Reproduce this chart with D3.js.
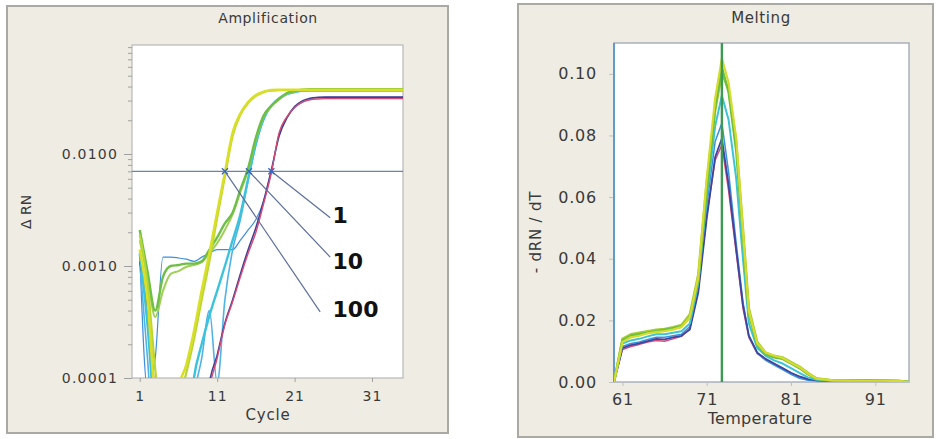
<!DOCTYPE html>
<html><head><meta charset="utf-8">
<script src="https://cdn.jsdelivr.net/npm/d3@7"></script>
<style>
html,body{margin:0;padding:0;background:#fff;}
svg{display:block;font-family:"DejaVu Sans",sans-serif;}
</style></head>
<body>
<svg id="c" width="939" height="439"></svg>
<script>
// ---------------- DATA ----------------
const cycles = d3.range(1, 36);
const ampYellow      = [0.0014,0.0005,0.00006,0.00002,0.00002,0.00008,0.00013,0.00026,0.0006,0.0013,0.003,0.0068,0.0155,0.023,0.029,0.0335,0.036,0.0372,0.0375,0.0375,0.0375,0.0375,0.0375,0.0375,0.0375,0.0375,0.0375,0.0375,0.0375,0.0375,0.0375,0.0375,0.0375,0.0375,0.0375];
const ampYellowGreen = [0.0019,0.0007,0.00012,0.00003,0.00002,0.00006,0.00011,0.00022,0.0005,0.0011,0.0027,0.0063,0.0145,0.0225,0.0285,0.033,0.0357,0.0368,0.0372,0.0372,0.0372,0.0372,0.0372,0.0372,0.0372,0.0372,0.0372,0.0372,0.0372,0.0372,0.0372,0.0372,0.0372,0.0372,0.0372];
const ampGreen       = [0.0021,0.0009,0.0004,0.0008,0.001,0.00102,0.00105,0.00105,0.0011,0.0014,0.0018,0.0024,0.003,0.0048,0.0075,0.014,0.022,0.027,0.031,0.035,0.0365,0.0375,0.0378,0.0378,0.0378,0.0378,0.0378,0.0378,0.0378,0.0378,0.0378,0.0378,0.0378,0.0378,0.0378];
const ampLightGreen  = [0.0017,0.0008,0.00035,0.0006,0.00085,0.0009,0.00098,0.00102,0.00108,0.0013,0.0016,0.0021,0.0029,0.0046,0.0072,0.0135,0.0215,0.0268,0.0308,0.0345,0.0362,0.0372,0.0374,0.0374,0.0374,0.0374,0.0374,0.0374,0.0374,0.0374,0.0374,0.0374,0.0374,0.0374,0.0374];
const ampCyan        = [0.0013,0.0003,0.00004,0.00002,0.00002,0.00002,0.00002,0.0001,0.0002,0.00036,0.0006,0.001,0.0017,0.0029,0.006,0.0125,0.021,0.027,0.0315,0.0345,0.036,0.0368,0.037,0.037,0.037,0.037,0.037,0.037,0.037,0.037,0.037,0.037,0.037,0.037,0.037];
const ampSkyBlue     = [0.0011,0.00015,0.00002,0.00002,0.00002,0.00002,0.00002,0.00007,0.00015,0.0004,0.00009,0.0005,0.0014,0.0026,0.0058,0.012,0.02,0.027,0.031,0.034,0.0355,0.0365,0.0368,0.0368,0.0368,0.0368,0.0368,0.0368,0.0368,0.0368,0.0368,0.0368,0.0368,0.0368,0.0368];
const ampRed         = [0.0012,0.0005,0.00007,0.00002,0.00002,0.00002,0.00002,0.00002,0.00002,0.00008,0.00015,0.0003,0.00048,0.0008,0.0013,0.002,0.0036,0.0068,0.0155,0.0215,0.026,0.029,0.0305,0.031,0.0312,0.0312,0.0312,0.0312,0.0312,0.0312,0.0312,0.0312,0.0312,0.0312,0.0312];
const ampNavy        = [0.0011,0.0004,0.00005,0.00002,0.00002,0.00002,0.00002,0.00002,0.00002,0.00009,0.00016,0.00031,0.0005,0.00085,0.0014,0.0022,0.0038,0.0072,0.0145,0.021,0.0265,0.0298,0.0315,0.032,0.0322,0.0322,0.0322,0.0322,0.0322,0.0322,0.0322,0.0322,0.0322,0.0322,0.0322];
const ampBlue        = [0.0013,0.00008,0.00015,0.0012,0.0012,0.00118,0.00115,0.0011,0.0012,0.0013,0.0014,0.0014,0.0014,0.0017,0.0021,0.0026,0.0038,0.007,0.015,0.021,0.026,0.029,0.031,0.0318,0.032,0.032,0.032,0.032,0.032,0.032,0.032,0.032,0.032,0.032,0.032];
const ampThreshold = 0.007;
const ampYTicks = [0.0001, 0.001, 0.01];
const ampYTickLabels = ["0.0001", "0.0010", "0.0100"];
const ampXTicks = [1, 11, 21, 31];
// copy-number annotations: crossing cycle, leader end (cycle, value), label (cycle, value)
const annCopies   = ["1", "10", "100"];
const annCross    = [18.0, 15.1, 12.0];
const annEndCycle = [25.6, 25.6, 24.3];
const annEndValue = [0.0027, 0.0012, 0.00039];
const annTxtCycle = [25.9, 25.9, 25.9];
const annTxtValue = [0.00242, 0.00094, 0.00035];

const temps = [60,61,62,63,64,65,66,67,68,69,70,71,72,72.8,73.6,74.5,75.3,76,77,78,79,80,81,82,83,84,86,88,90,92,94,95];
const meltNavy   = [0,0.011,0.012,0.0125,0.0133,0.014,0.0138,0.0145,0.015,0.017,0.029,0.053,0.073,0.079,0.064,0.043,0.025,0.015,0.0095,0.0075,0.006,0.0045,0.003,0.0018,0.0009,0.0005,0.0004,0.0004,0.0005,0.0004,0.0004,0];
const meltRed    = [0,0.0105,0.0115,0.0122,0.013,0.0135,0.0132,0.014,0.0148,0.0175,0.030,0.054,0.072,0.077,0.062,0.042,0.024,0.0145,0.0092,0.0072,0.0058,0.0044,0.0029,0.0017,0.0009,0.0005,0.0004,0.0005,0.0006,0.0004,0.0003,0];
const meltBlue   = [0,0.0115,0.0125,0.013,0.0138,0.0145,0.0145,0.015,0.0155,0.018,0.031,0.057,0.078,0.084,0.068,0.045,0.026,0.015,0.0095,0.007,0.0055,0.004,0.0025,0.0012,0.0006,0.0004,0.0003,0.0003,0.0004,0.0004,0.0003,0];
const meltCyan   = [0,0.0125,0.0135,0.014,0.0148,0.0155,0.0155,0.016,0.0165,0.019,0.032,0.060,0.083,0.093,0.085,0.066,0.040,0.019,0.011,0.0085,0.007,0.006,0.0045,0.003,0.0015,0.0007,0.0004,0.0004,0.0004,0.0004,0.0003,0];
const meltGreen  = [0,0.0135,0.015,0.0155,0.016,0.0165,0.017,0.0175,0.018,0.021,0.033,0.062,0.089,0.102,0.094,0.075,0.047,0.022,0.012,0.009,0.008,0.0075,0.006,0.0045,0.0025,0.001,0.0005,0.0004,0.0004,0.0004,0.0003,0];
const meltLime   = [0,0.014,0.0155,0.016,0.0165,0.017,0.0172,0.0178,0.0185,0.022,0.035,0.065,0.088,0.100,0.095,0.078,0.05,0.024,0.013,0.0095,0.0085,0.008,0.0065,0.005,0.003,0.0012,0.0005,0.0004,0.0004,0.0004,0.0003,0];
const meltYellow = [0,0.013,0.0145,0.015,0.0158,0.0162,0.0165,0.017,0.0178,0.021,0.034,0.066,0.092,0.105,0.097,0.079,0.049,0.023,0.0125,0.0095,0.0085,0.0078,0.0062,0.0048,0.0028,0.0011,0.0005,0.0004,0.0004,0.0004,0.0003,0];
const meltPeakT = 72.8;
const meltYTicks = [0, 0.02, 0.04, 0.06, 0.08, 0.10];
const meltXTicks = [61, 71, 81, 91];

// ---------------- DRAW ----------------
const svg = d3.select("#c");
const panelFill = "#efece3", panelStroke = "#aaa9a2", txt = "#3a3a3a";

// Left panel
svg.append("rect").attr("x",7).attr("y",6).attr("width",441).attr("height",427)
  .attr("fill",panelFill).attr("stroke",panelStroke).attr("stroke-width",2);
// Right panel
svg.append("rect").attr("x",518).attr("y",4).attr("width",415).attr("height",433)
  .attr("fill",panelFill).attr("stroke",panelStroke).attr("stroke-width",2);

// ===== Amplification =====
const xA = d3.scaleLinear().domain([0, 35]).range([132, 403]);
const yA = d3.scaleLog().domain([0.0001, 0.094]).range([378, 45]);
const gA = svg.append("g");
gA.append("rect").attr("x",132).attr("y",45).attr("width",271).attr("height",333)
  .attr("fill","#fff").attr("stroke","#b8b8b8").attr("stroke-width",1.2);
svg.append("defs").append("clipPath").attr("id","clipA").append("rect")
  .attr("x",132).attr("y",45).attr("width",271).attr("height",333);

// y axis with minor log ticks
const yAxisA = d3.axisLeft(yA).tickValues(yA.ticks()).tickSize(4).tickFormat("");
const ay = gA.append("g").attr("transform","translate(132,0)").call(yAxisA);
ay.select(".domain").remove();
ay.selectAll("line").attr("stroke","#a0a0a0");
const ayMajor = gA.append("g").attr("transform","translate(132,0)")
  .call(d3.axisLeft(yA).tickValues(ampYTicks).tickSize(8).tickFormat((d,i)=>ampYTickLabels[i]).tickPadding(6));
ayMajor.select(".domain").remove();
ayMajor.selectAll("line").attr("stroke","#a0a0a0");
ayMajor.selectAll("text").attr("font-size",14).attr("fill",txt).attr("letter-spacing",1.2)
  .attr("font-family","DejaVu Sans");

const axA = gA.append("g").attr("transform","translate(0,378)")
  .call(d3.axisBottom(xA).tickValues(ampXTicks).tickSize(4).tickPadding(9));
axA.select(".domain").remove();
axA.selectAll("line").attr("stroke","#a0a0a0");
axA.selectAll("text").attr("font-size",14).attr("fill",txt).attr("letter-spacing",1)
  .attr("font-family","DejaVu Sans");

gA.append("text").attr("x",268).attr("y",23).attr("text-anchor","middle")
  .attr("font-size",14).attr("letter-spacing",0.6).attr("fill",txt).text("Amplification");
gA.append("text").attr("x",268).attr("y",420).attr("text-anchor","middle")
  .attr("font-size",15).attr("letter-spacing",0.8).attr("fill",txt).text("Cycle");
gA.append("text").attr("transform","translate(31,212) rotate(-90)").attr("text-anchor","middle")
  .attr("font-size",14).attr("fill",txt).text("Δ RN");

// threshold
gA.append("line").attr("x1",xA(0)).attr("x2",xA(35)).attr("y1",yA(ampThreshold)).attr("y2",yA(ampThreshold))
  .attr("stroke","#6c82a6").attr("stroke-width",1.3);

const ampSeries = [
  {v: ampBlue,        c:"#3d8fe0", w:1.2},
  {v: ampSkyBlue,     c:"#4fb3e6", w:1.6},
  {v: ampNavy,        c:"#3f3f95", w:1.6},
  {v: ampRed,         c:"#d84a74", w:1.4},
  {v: ampCyan,        c:"#3cc3db", w:2.4},
  {v: ampLightGreen,  c:"#9fcf55", w:2.0},
  {v: ampGreen,       c:"#6fbf46", w:2.4},
  {v: ampYellowGreen, c:"#b7d637", w:2.2},
  {v: ampYellow,      c:"#d9df26", w:2.6}
];
const lineA = d3.line().x((d,i)=>xA(cycles[i])).y(d=>yA(d)).curve(d3.curveMonotoneX);
const gAl = gA.append("g").attr("clip-path","url(#clipA)");
ampSeries.forEach(s=>{
  gAl.append("path").attr("d",lineA(s.v)).attr("fill","none")
    .attr("stroke",s.c).attr("stroke-width",s.w).attr("stroke-linejoin","round");
});

// annotations
annCopies.forEach((lab,i)=>{
  const x0 = xA(annCross[i]), y0 = yA(ampThreshold);
  gA.append("line").attr("x1",x0).attr("y1",y0).attr("x2",xA(annEndCycle[i])).attr("y2",yA(annEndValue[i]))
    .attr("stroke","#5e6f9c").attr("stroke-width",1.2);
  gA.append("path").attr("d",`M${x0-3},${y0-3}L${x0+3},${y0+3}M${x0-3},${y0+3}L${x0+3},${y0-3}`)
    .attr("stroke","#3a66c0").attr("stroke-width",1.4);
  gA.append("text").attr("x",xA(annTxtCycle[i])).attr("y",yA(annTxtValue[i]))
    .attr("font-size",22).attr("font-weight","bold").attr("font-family","DejaVu Sans")
    .attr("fill","#111").text(lab);
});

// ===== Melting =====
const xM = d3.scaleLinear().domain([60, 95]).range([614, 909]);
const yM = d3.scaleLinear().domain([0, 0.11]).range([382, 43]);
const gM = svg.append("g");
gM.append("rect").attr("x",614).attr("y",43).attr("width",295).attr("height",339)
  .attr("fill","#fff").attr("stroke","#a4acb8").attr("stroke-width",1.4);
svg.select("defs").append("clipPath").attr("id","clipM").append("rect")
  .attr("x",614).attr("y",43).attr("width",295).attr("height",339);

const ayM = gM.append("g").attr("transform","translate(614,0)")
  .call(d3.axisLeft(yM).tickValues(meltYTicks).tickSize(5).tickPadding(12).tickFormat(d3.format(".2f")));
ayM.select(".domain").remove();
ayM.selectAll("line").attr("stroke","#c0c0c0");
ayM.selectAll("text").attr("font-size",16).attr("fill",txt).attr("letter-spacing",0.8)
  .attr("font-family","DejaVu Sans");
const axM = gM.append("g").attr("transform","translate(0,382)")
  .call(d3.axisBottom(xM).tickValues(meltXTicks).tickSize(4).tickPadding(8));
axM.select(".domain").remove();
axM.selectAll("line").attr("stroke","#c0c0c0");
axM.selectAll("text").attr("font-size",16).attr("fill",txt).attr("letter-spacing",0.8)
  .attr("font-family","DejaVu Sans");

gM.append("text").attr("x",761).attr("y",23).attr("text-anchor","middle")
  .attr("font-size",15).attr("letter-spacing",0.6).attr("fill",txt).text("Melting");
gM.append("text").attr("x",760).attr("y",424).attr("text-anchor","middle")
  .attr("font-size",16).attr("letter-spacing",0.3).attr("fill",txt).text("Temperature");
gM.append("text").attr("transform","translate(541,232) rotate(-90)").attr("text-anchor","middle")
  .attr("font-size",15).attr("letter-spacing",0.8).attr("fill",txt).text("- dRN / dT");

// left edge blue line
gM.append("line").attr("x1",xM(60)).attr("x2",xM(60)).attr("y1",43).attr("y2",382)
  .attr("stroke","#4a8fd6").attr("stroke-width",1.6);

const meltSeries = [
  {v: meltRed,    c:"#d84a78", w:1.5},
  {v: meltBlue,   c:"#3a92dc", w:1.5},
  {v: meltNavy,   c:"#3c46a0", w:1.8},
  {v: meltCyan,   c:"#3cc4d4", w:2.0},
  {v: meltLime,   c:"#a6cc38", w:2.4},
  {v: meltGreen,  c:"#6cbf40", w:2.4},
  {v: meltYellow, c:"#d6dc2c", w:2.2}
];
const lineM = d3.line().x((d,i)=>xM(temps[i])).y(d=>yM(d));
const gMl = gM.append("g").attr("clip-path","url(#clipM)");
meltSeries.forEach(s=>{
  gMl.append("path").attr("d",lineM(s.v)).attr("fill","none")
    .attr("stroke",s.c).attr("stroke-width",s.w).attr("stroke-linejoin","round");
});
// Tm marker
gM.append("line").attr("x1",xM(meltPeakT)).attr("x2",xM(meltPeakT)).attr("y1",43).attr("y2",382)
  .attr("stroke","#3d9a52").attr("stroke-width",2.4);
</script>
</body></html>
